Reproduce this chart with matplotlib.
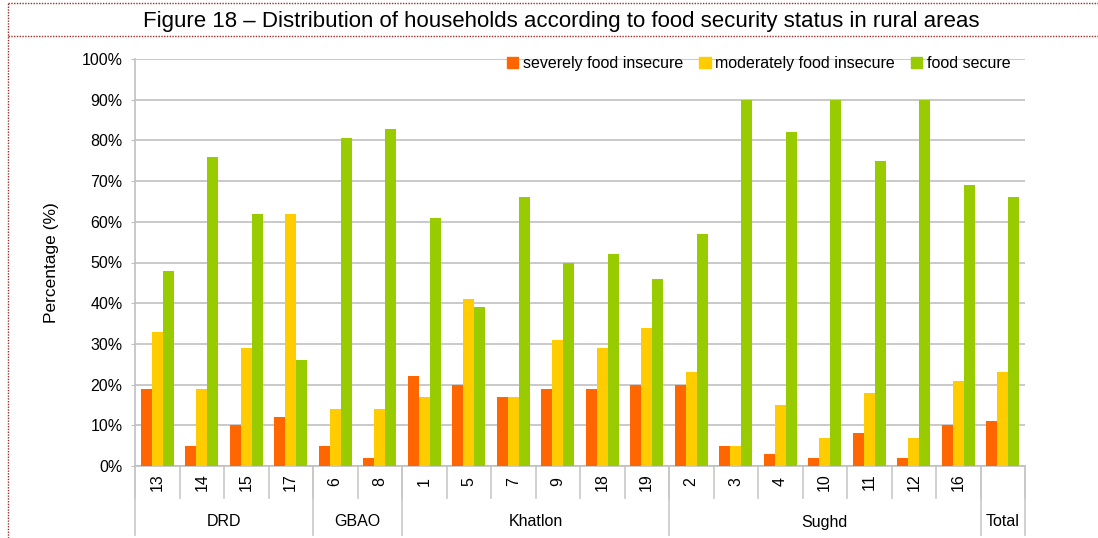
import numpy as np
import matplotlib.pyplot as plt
from matplotlib.lines import Line2D
from matplotlib.patches import Patch
from matplotlib.ticker import PercentFormatter

plt.rcParams['font.family'] = ['Liberation Sans', 'DejaVu Sans']

# districts (first row of x labels) and the region each belongs to
districts = ['13', '14', '15', '17', '6', '8', '1', '5', '7', '9', '18', '19',
             '2', '3', '4', '10', '11', '12', '16', '']
regions = ['DRD', 'GBAO', 'Khatlon', 'Sughd', 'Total']
region_sizes = [4, 2, 6, 7, 1]

severe = [19, 5, 10, 12, 5, 2, 22, 20, 17, 19, 19, 20, 20, 5, 3, 2, 8, 2, 10, 11]
moderate = [33, 19, 29, 62, 14, 14, 17, 41, 17, 31, 29, 34, 23, 5, 15, 7, 18, 7, 21, 23]
secure = [48, 76, 62, 26, 80.6, 82.8, 61, 39, 66, 50, 52, 46, 57, 90, 82, 90, 75, 90, 69, 66]

series_names = ['severely food insecure', 'moderately food insecure', 'food secure']
colors = ['#FF6600', '#FFCC00', '#99CC00']

W, H = 1098, 538
fig = plt.figure(figsize=(W / 100, H / 100), dpi=100)
ax = fig.add_axes([135 / W, (H - 466) / H, 890 / W, 407 / H])

x = np.arange(len(districts))
bw = 0.247
for k, vals in enumerate([severe, moderate, secure]):
    ax.bar(x + (k - 1) * bw, vals, width=bw, color=colors[k], zorder=3)

ax.set_xlim(-0.5, len(districts) - 0.5)
ax.set_ylim(0, 100)
ax.set_yticks(np.arange(0, 101, 10))
ax.yaxis.set_major_formatter(PercentFormatter(decimals=0))
ax.tick_params(axis='y', length=3, color='#C0C0C0', labelsize=11.5, pad=6)
ax.set_xticks([])
ax.grid(axis='y', color='#C0C0C0', linewidth=1.2, zorder=0)
for side in ['top', 'right']:
    ax.spines[side].set_visible(False)
ax.spines['left'].set_color('#C0C0C0')
ax.spines['bottom'].set_color('#C0C0C0')
ax.spines['left'].set_linewidth(1.2)
ax.spines['bottom'].set_linewidth(1.2)
ax.set_ylabel('Percentage (%)', fontsize=12.5, labelpad=16)

# two-level category axis
trans = ax.get_xaxis_transform()
row1 = -32 / 407
row2 = -69 / 407
for i, d in enumerate(districts):
    ax.text(i, -16 / 407, d, transform=trans, rotation=90, ha='center', va='center', fontsize=11.5)
for b in np.arange(-0.5, len(districts), 1.0):
    ax.add_line(Line2D([b, b], [0, row1], transform=trans, color='#C8C8C8', lw=1.2, clip_on=False))

edges = np.concatenate([[0], np.cumsum(region_sizes)]) - 0.5
for j, r in enumerate(regions):
    ax.text((edges[j] + edges[j + 1]) / 2, -56 / 407, r, transform=trans,
            ha='center', va='center', fontsize=11.5)
for b in edges:
    ax.add_line(Line2D([b, b], [0, row2], transform=trans, color='#C8C8C8', lw=1.2, clip_on=False))

handles = [Patch(color=c) for c in colors]
ax.legend(handles, series_names, loc='upper right', bbox_to_anchor=(1.0, 1.043), ncol=3,
          frameon=False, fontsize=11.5, handlelength=0.7, handleheight=0.7,
          handletextpad=0.3, columnspacing=1.0)

fig.text(561 / W, 1 - 21 / H, 'Figure 18 \u2013 Distribution of households according to food security status in rural areas',
         ha='center', va='center', fontsize=16)

# dotted frame around the figure caption
frame = dict(color='#9B2C2C', lw=1.0, linestyle=(0, (1, 1)))
fig.add_artist(Line2D([8 / W, 1], [1 - 3 / H, 1 - 3 / H], transform=fig.transFigure, **frame))
fig.add_artist(Line2D([8 / W, 1], [1 - 36 / H, 1 - 36 / H], transform=fig.transFigure, **frame))
fig.add_artist(Line2D([8 / W, 8 / W], [0, 1 - 3 / H], transform=fig.transFigure, **frame))

fig.savefig('out.png', dpi=100)
